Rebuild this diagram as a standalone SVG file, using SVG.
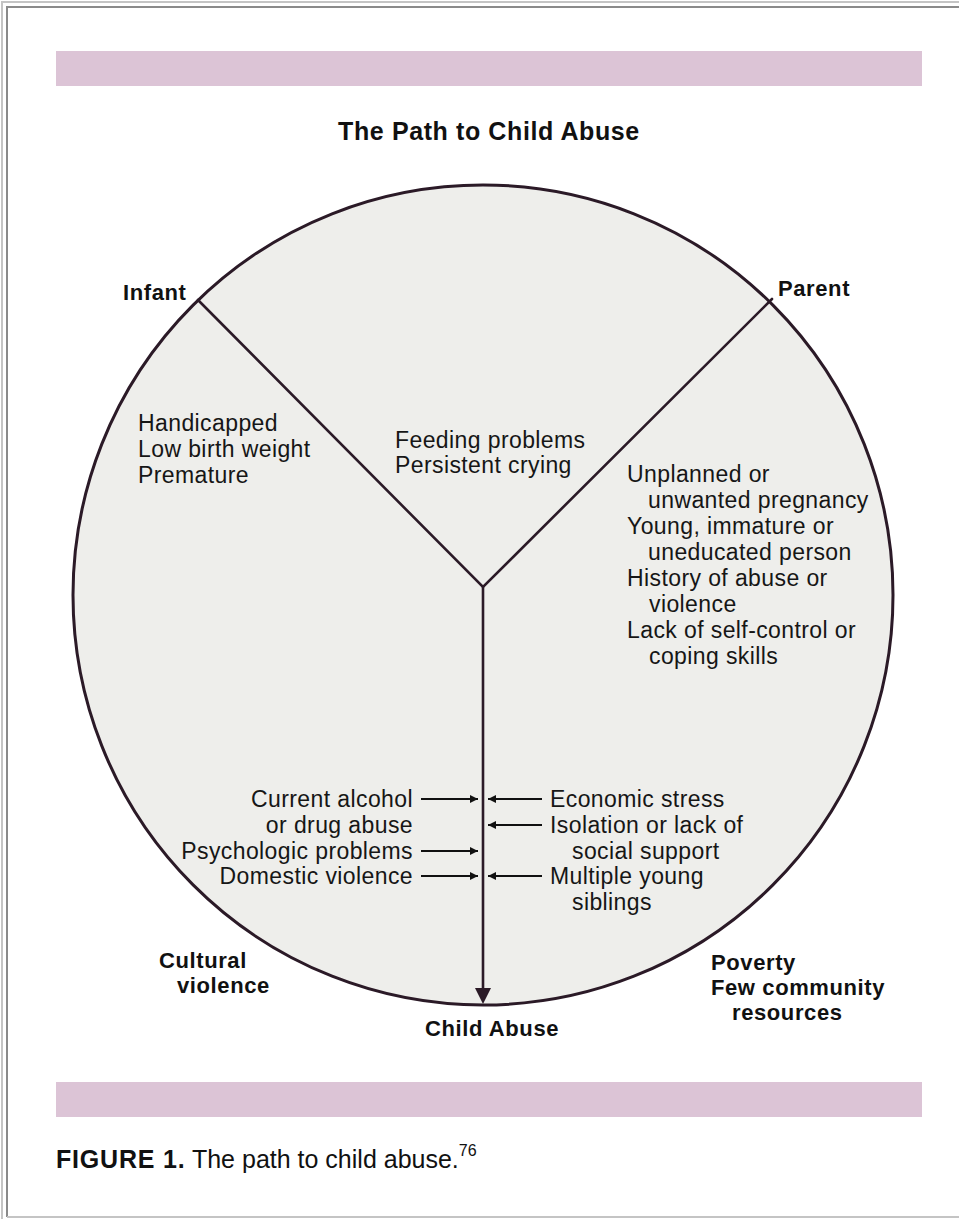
<svg xmlns="http://www.w3.org/2000/svg" width="959" height="1219" viewBox="0 0 959 1219">
<style>
.t{font-family:"Liberation Sans",Arial,sans-serif;font-size:23px;letter-spacing:0.4px;fill:#161616}
.b{font-family:"Liberation Sans",Arial,sans-serif;font-size:22px;font-weight:bold;letter-spacing:0.6px;fill:#111}
.r{text-anchor:end}
.ln{stroke:#2b1a27;stroke-width:2.6;fill:none;stroke-linecap:round}
.ar{stroke:#111;stroke-width:1.8;fill:none}
.bar{fill:#dcc4d6}
</style>
<defs>
<marker id="ah" viewBox="0 0 10 10" refX="10" refY="5" markerWidth="9" markerHeight="8" markerUnits="userSpaceOnUse" orient="auto">
<path d="M0,0 L10,5 L0,10 z" fill="#111"/>
</marker>
</defs>
<rect width="959" height="1219" fill="#fff"/>
<g id="frame" fill="none">
<path d="M2,1219 V2 H959" stroke="#c4c4c4" stroke-width="2"/>
<path d="M7,1217 V7 H959" stroke="#8a8a8a" stroke-width="2"/>
<path d="M7,1217 H959" stroke="#c4c4c4" stroke-width="2"/>
</g>
<rect class="bar" x="56" y="51" width="866" height="35"/>
<rect class="bar" x="56" y="1082" width="866" height="35"/>
<text id="title" x="489" y="140" text-anchor="middle" style="font-family:'Liberation Sans',Arial,sans-serif;font-size:25px;font-weight:bold;letter-spacing:0.6px;fill:#111">The Path to Child Abuse</text>
<g id="circle">
<circle cx="483" cy="595" r="410" fill="#eeeeeb" stroke="#2b1a27" stroke-width="3"/>
</g>
<g id="connectors">
<path class="ln" d="M198,300 L483,587 L772,299"/>
<path class="ln" d="M483,587 V990"/>
<path d="M475,988 L491,988 L483,1004 z" fill="#2b1a27"/>
<line class="ar" x1="421" y1="799" x2="478" y2="799" marker-end="url(#ah)"/>
<line class="ar" x1="421" y1="851" x2="478" y2="851" marker-end="url(#ah)"/>
<line class="ar" x1="421" y1="876" x2="478" y2="876" marker-end="url(#ah)"/>
<line class="ar" x1="542" y1="799" x2="488" y2="799" marker-end="url(#ah)"/>
<line class="ar" x1="542" y1="825" x2="488" y2="825" marker-end="url(#ah)"/>
<line class="ar" x1="542" y1="876" x2="488" y2="876" marker-end="url(#ah)"/>
</g>
<g id="infant">
<text class="b" x="123" y="300">Infant</text>
<text class="t" x="138" y="431">Handicapped</text>
<text class="t" x="138" y="457">Low birth weight</text>
<text class="t" x="138" y="483">Premature</text>
</g>
<g id="center">
<text class="t" x="395" y="448">Feeding problems</text>
<text class="t" x="395" y="473">Persistent crying</text>
</g>
<g id="parent">
<text class="b" x="778" y="296">Parent</text>
<text class="t" x="627" y="482">Unplanned or</text>
<text class="t" x="648" y="508">unwanted pregnancy</text>
<text class="t" x="627" y="534">Young, immature or</text>
<text class="t" x="648" y="560">uneducated person</text>
<text class="t" x="627" y="586">History of abuse or</text>
<text class="t" x="649" y="612">violence</text>
<text class="t" x="627" y="638">Lack of self-control or</text>
<text class="t" x="649" y="664">coping skills</text>
</g>
<g id="left-factors">
<text class="t r" x="413" y="807">Current alcohol</text>
<text class="t r" x="413" y="833">or drug abuse</text>
<text class="t r" x="413" y="859">Psychologic problems</text>
<text class="t r" x="413" y="884">Domestic violence</text>
</g>
<g id="right-factors">
<text class="t" x="550" y="807">Economic stress</text>
<text class="t" x="550" y="833">Isolation or lack of</text>
<text class="t" x="572" y="859">social support</text>
<text class="t" x="550" y="884">Multiple young</text>
<text class="t" x="572" y="910">siblings</text>
</g>
<g id="cultural">
<text class="b" x="159" y="968">Cultural</text>
<text class="b" x="177" y="993">violence</text>
</g>
<g id="poverty">
<text class="b" x="711" y="970">Poverty</text>
<text class="b" x="711" y="995">Few community</text>
<text class="b" x="732" y="1020">resources</text>
</g>
<g id="child-abuse">
<text class="b" x="492" y="1036" text-anchor="middle">Child Abuse</text>
</g>
<g id="caption">
<text x="56" y="1168" style="font-family:'Liberation Sans',Arial,sans-serif;font-size:25px;fill:#111"><tspan font-weight="bold" letter-spacing="0.8">FIGURE 1.</tspan> The path to child abuse.<tspan font-size="16" dy="-12">76</tspan></text>
</g>
</svg>
